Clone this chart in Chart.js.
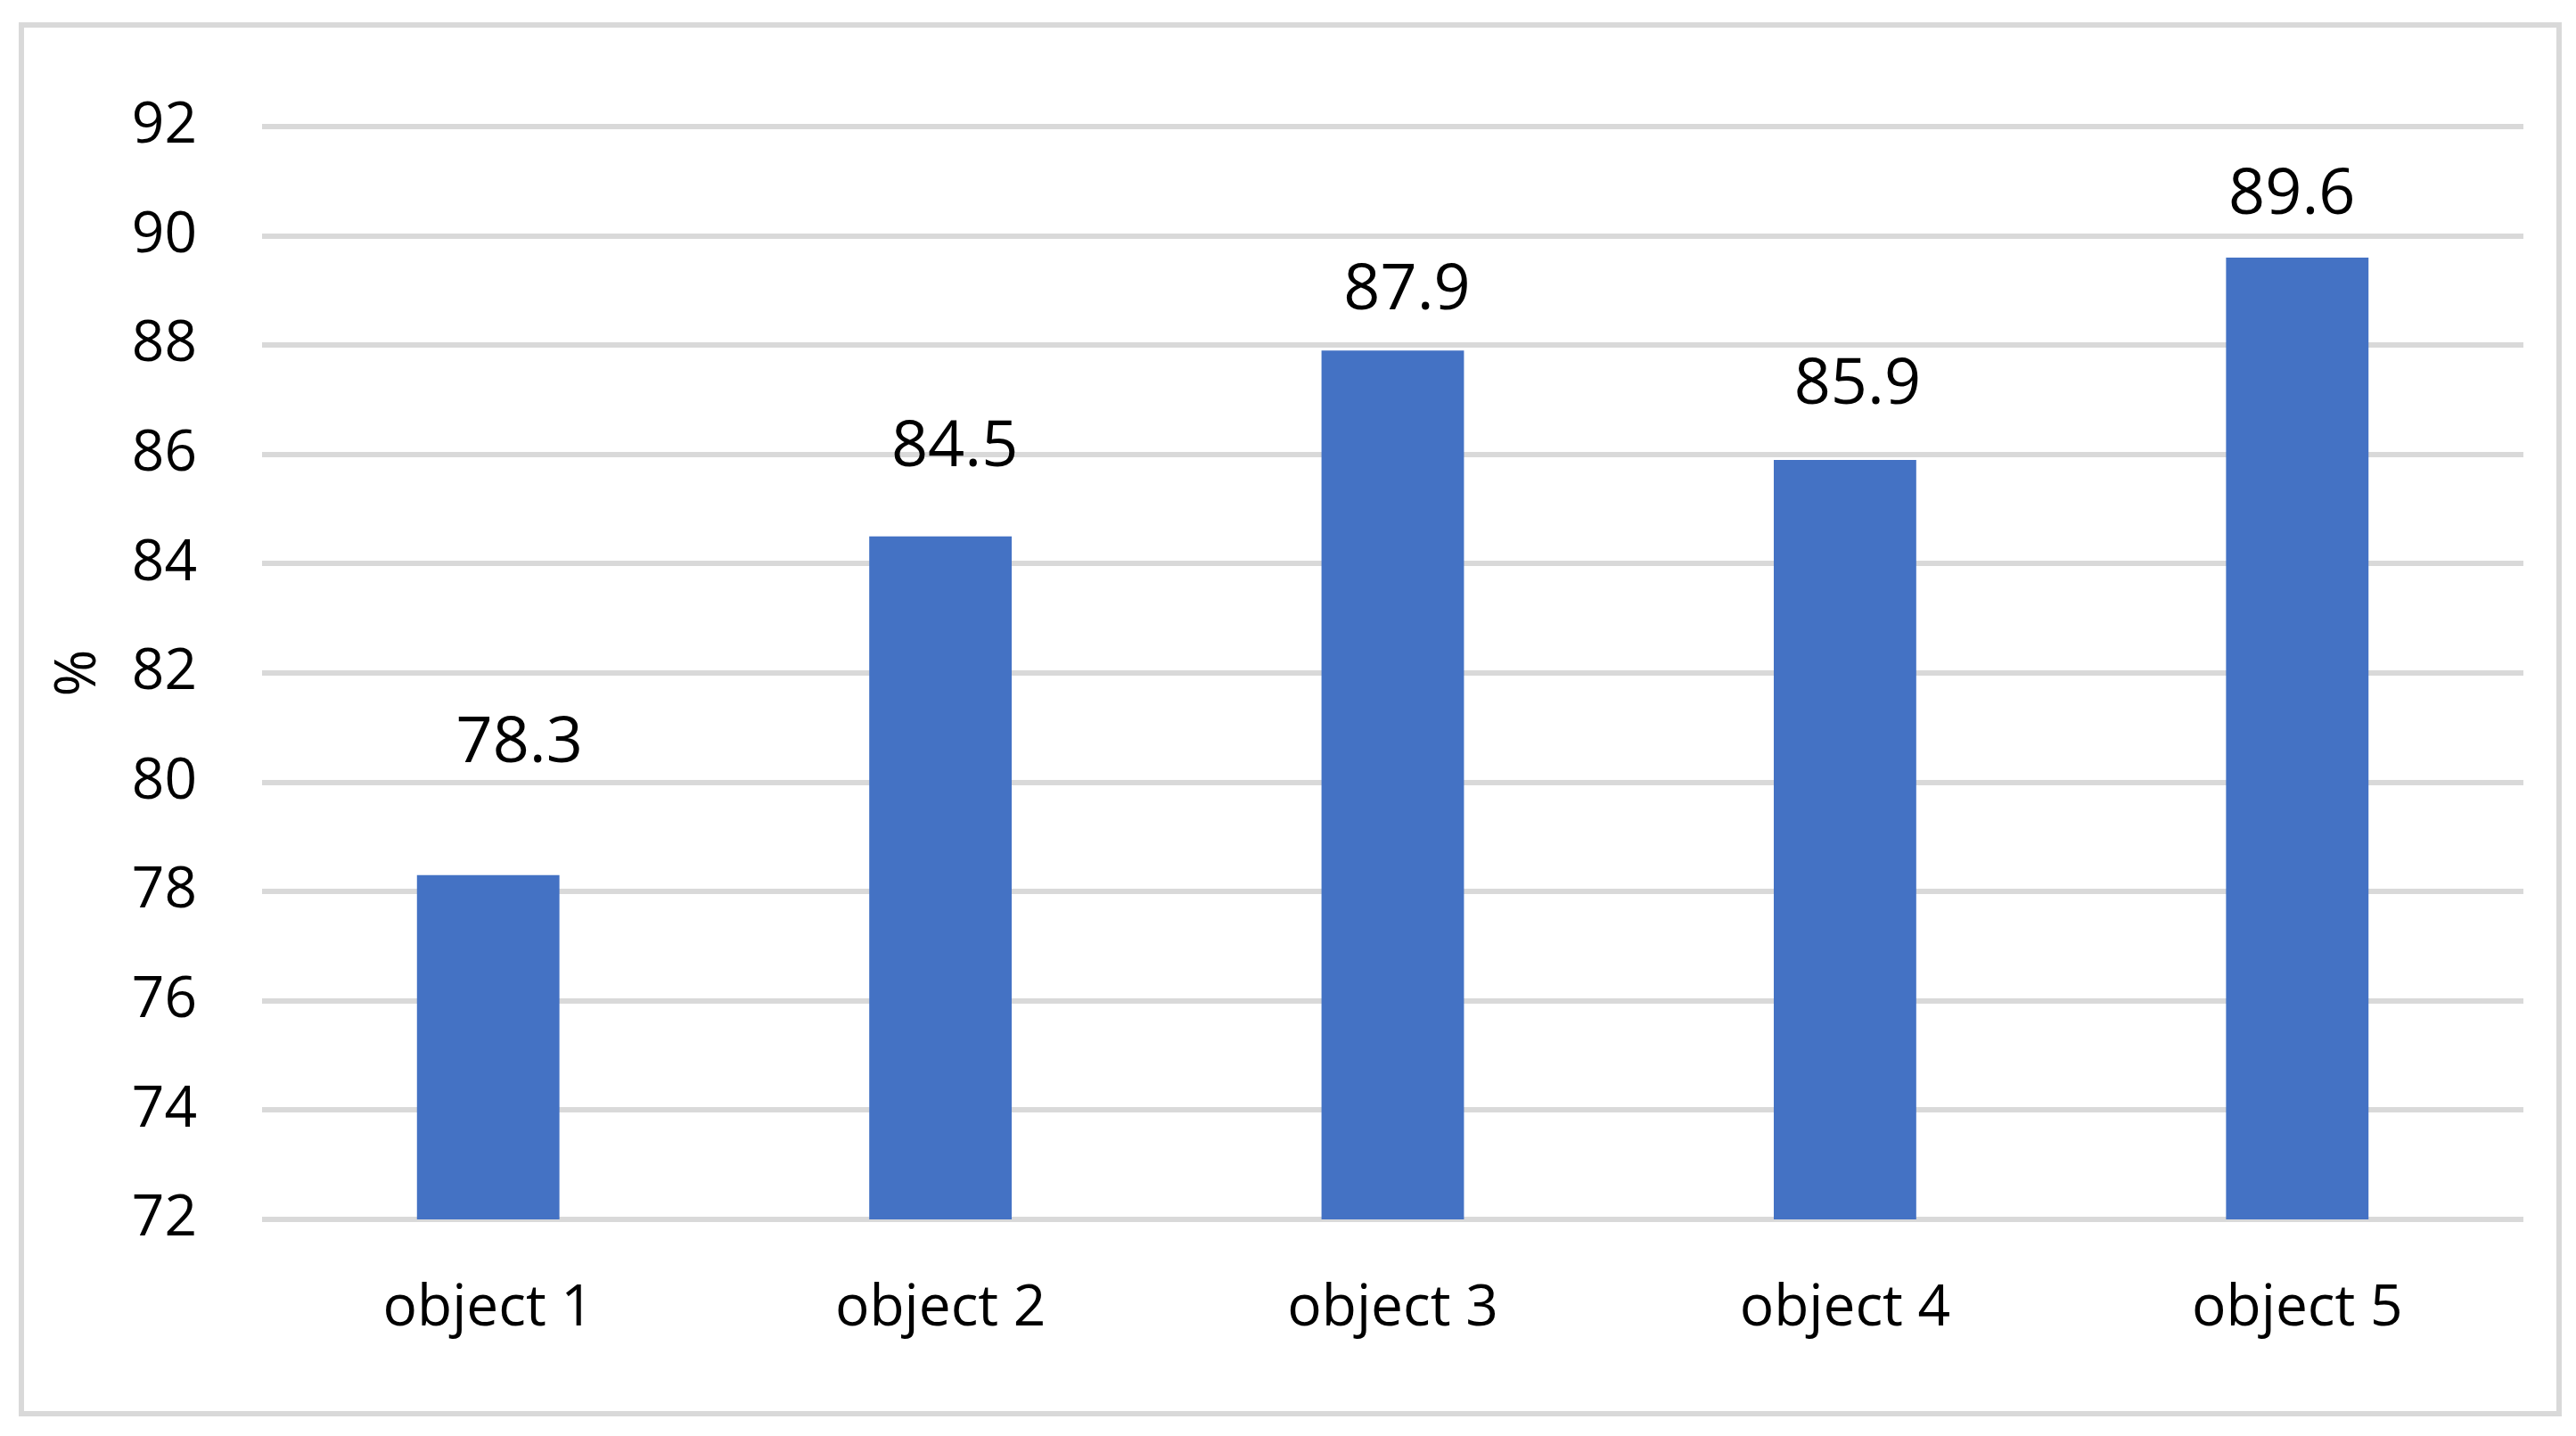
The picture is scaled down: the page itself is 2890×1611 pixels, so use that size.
<!DOCTYPE html>
<html>
<head>
<meta charset="utf-8">
<script src="https://cdn.jsdelivr.net/npm/chart.js@4"></script>
<style>
  html, body { margin: 0; padding: 0; background: #ffffff; }
  #frame { position: absolute; left: 21px; top: 25px; width: 2841px; height: 1552px; border: 6px solid #d9d9d9; box-sizing: content-box; }
  #wrap { position: absolute; left: 0; top: 0; width: 2890px; height: 1611px; }
</style>
</head>
<body>
<div id="frame"></div>
<div id="wrap"><canvas id="c" width="2890" height="1611"></canvas></div>
<script>
const categories = ["object 1", "object 2", "object 3", "object 4", "object 5"];
const values = [78.3, 84.5, 87.9, 85.9, 89.6];
const yTicks = [72, 74, 76, 78, 80, 82, 84, 86, 88, 90, 92];
const yTitle = "%";

const FONT = "'Open Sans', 'Noto Sans', sans-serif";

// data labels were hand-placed in the original; per-label nudges (style, in px)
const dataLabels = {
  id: 'dataLabels',
  afterDatasetsDraw(chart, args, opts) {
    const ctx = chart.ctx;
    const meta = chart.getDatasetMeta(0);
    const nudges = opts.nudges || [];
    ctx.save();
    ctx.font = "72px " + FONT;
    ctx.fillStyle = "#000000";
    ctx.textAlign = "center";
    ctx.textBaseline = "alphabetic";
    meta.data.forEach((bar, i) => {
      const n = nudges[i] || { dx: 0, dy: 50 };
      ctx.fillText(String(values[i]), bar.x + n.dx, bar.y - n.dy);
    });
    ctx.restore();
  }
};

new Chart(document.getElementById('c'), {
  type: 'bar',
  data: {
    labels: categories,
    datasets: [{
      data: values,
      backgroundColor: '#4472C4',
      borderWidth: 0,
      categoryPercentage: 1.0,
      barPercentage: 0.315
    }]
  },
  options: {
    responsive: false,
    animation: false,
    devicePixelRatio: 1,
    layout: { padding: { left: 0, top: 142, right: 59, bottom: 0 } },
    plugins: {
      legend: { display: false },
      tooltip: { enabled: false },
      dataLabels: {
        nudges: [
          { dx: 35, dy: 127 },
          { dx: 16, dy: 79 },
          { dx: 16, dy: 46 },
          { dx: 14, dy: 63 },
          { dx: -6, dy: 49 }
        ]
      }
    },
    scales: {
      x: {
        grid: { display: false, drawTicks: false },
        border: { display: false },
        ticks: { font: { family: FONT, size: 64 }, color: '#000000', padding: 62 },
        afterFit(scale) { scale.height = 1611 - 1368; }
      },
      y: {
        min: 72, max: 92,
        afterBuildTicks(scale) { scale.ticks = yTicks.map(v => ({ value: v })); },
        grid: { color: '#d9d9d9', lineWidth: 6, drawTicks: false },
        border: { display: false },
        ticks: { font: { family: FONT, size: 64 }, color: '#000000', padding: 73 },
        title: { display: true, text: yTitle, font: { family: FONT, size: 64 }, color: '#000000', padding: { top: 50, bottom: 0 } },
        afterFit(scale) { scale.width = 294; }
      }
    }
  },
  plugins: [dataLabels]
});
</script>
</body>
</html>
